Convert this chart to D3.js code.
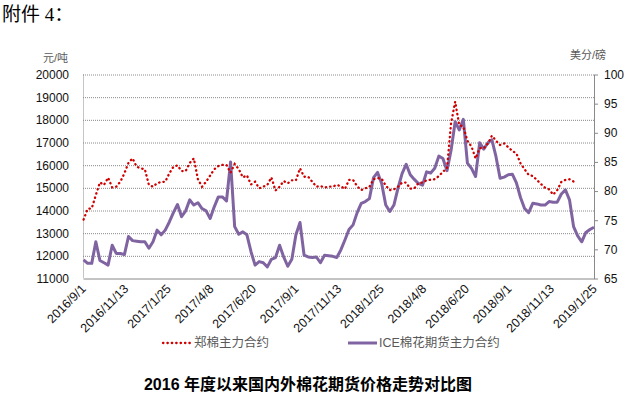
<!DOCTYPE html>
<html>
<head>
<meta charset="utf-8">
<script src="https://cdn.jsdelivr.net/npm/d3@7"></script>
<style>
	body { margin: 0; background: #fff; }
	svg { display: block; }
	text { font-family: "Liberation Sans", "Noto Sans CJK SC", sans-serif; }
</style>
</head>
<body>
<svg id="chart" width="630" height="398"></svg>
<script>
// x axis tick labels (every 73 days)
const tickLabels = ['2016/9/1', '2016/11/13', '2017/1/25', '2017/4/8', '2017/6/20', '2017/9/1',
	'2017/11/13', '2018/1/25', '2018/4/8', '2018/6/20', '2018/9/1', '2018/11/13', '2019/1/25'];

const leftTicks = [11000, 12000, 13000, 14000, 15000, 16000, 17000, 18000, 19000, 20000];
const rightTicks = [65, 70, 75, 80, 85, 90, 95, 100];

// weekly readings, first week ends 2016/9/2
const firstWeek = '2016/9/2';

// 郑棉主力合约 (元/吨)
const zceValues = [
	13600, 14070, 14100, 14680, 15240, 15130, 15450, 15020, 15050, 15270,
	15640, 16110, 16300, 15930, 15860, 15820, 15130, 15050, 15200, 15260,
	15270, 15640, 15930, 15990, 15740, 15740, 16100, 16300, 15380, 15050,
	15270, 15540, 15820,
	15960, 16010, 16010, 15670, 16050, 15830, 15460, 15550, 15150, 15270,
	14980, 15050, 15130, 15460, 14880, 15050, 15300, 15200, 15330, 15330,
	15860, 15490, 15490, 15270, 15050, 15080, 15010, 15050, 15050, 15130,
	15070, 14950,
	15350, 15350, 15070, 14900, 14980, 15040, 15380, 15430, 15400, 15100,
	14900, 14930, 15050, 15230, 15230, 14960, 14980, 15200, 15240, 15330,
	15360, 15380, 15520, 15710, 15860, 17850, 18800, 17770, 17700, 17080,
	16820, 16300, 16750, 16740, 16950, 17300, 17080, 16890, 16960, 16790,
	16630, 16520, 16080, 15820, 15570, 15520, 15350, 15170, 15010, 14930,
	14700, 14900, 15260, 15350, 15380, 15280
];

// ICE棉花期货主力合约 (美分/磅)
const iceValues = [
	68.2, 67.6, 67.6, 71.3, 68.1, 67.7, 67.3, 70.7, 69.3, 69.3,
	69.1, 72.2, 71.5, 71.4, 71.3, 71.3, 70.2, 71.3, 73.3, 72.5,
	73.3, 74.7, 76.3, 77.7, 75.6, 76.6, 78.5, 77.6, 78.0, 77.0,
	76.6, 75.3, 77.3,
	79.0, 79.0, 78.3, 85.0, 73.9, 72.6, 73.0, 72.5, 69.6, 67.3,
	67.9, 67.7, 67.0, 68.3, 68.6, 70.7, 68.7, 67.1, 68.3, 72.5,
	74.6, 69.0, 68.7, 68.6, 68.7, 67.7, 69.0, 68.9, 68.8, 68.6,
	69.9, 71.6,
	73.4, 74.2, 76.3, 77.9, 78.2, 78.7, 82.3, 83.2, 81.3, 77.6,
	76.5, 77.6, 80.5, 83.0, 84.6, 82.8, 82.0, 81.3, 81.0, 83.3,
	83.1, 83.9, 86.0, 85.6, 83.5, 87.0, 91.9, 90.5, 92.3, 84.8,
	83.9, 82.5, 88.3, 87.2, 88.3, 88.8, 85.9, 82.2, 82.4, 82.8,
	82.9, 81.4, 78.9, 77.0, 76.3, 77.9, 77.8, 77.6, 77.6, 78.2,
	78.1, 78.1, 79.5, 80.2, 78.5, 73.9, 72.3, 71.3, 72.9, 73.4,
	73.8
];

const parse = d3.timeParse('%Y/%m/%d');
const tickDates = tickLabels.map(parse);
const start = parse(firstWeek);
const weekOf = i => d3.timeDay.offset(start, 7 * i);

const plotLeft = 83, plotRight = 594, plotTop = 74.5, plotBottom = 278.5;

const x = d3.scaleTime()
	.domain([tickDates[0], tickDates[tickDates.length - 1]])
	.range([plotLeft, plotRight]);

const yLeft = d3.scaleLinear().domain([11000, 20000]).range([plotBottom, plotTop]);
const yRight = d3.scaleLinear().domain([65, 100]).range([plotBottom, plotTop]);

const svg = d3.select('#chart');

// header
svg.append('text')
	.attr('x', 2).attr('y', 21)
	.style('font-family', '"Liberation Serif", "Noto Sans CJK SC", serif')
	.style('font-size', '19px')
	.attr('fill', '#000')
	.text('附件 4：');

// gridlines
svg.append('g')
	.attr('transform', `translate(${plotLeft},0)`)
	.call(d3.axisLeft(yLeft).tickValues(leftTicks.slice(1)).tickSize(-(plotRight - plotLeft)).tickFormat(''))
	.call(g => g.select('.domain').remove())
	.selectAll('line')
	.attr('stroke', '#8a8a8a')
	.attr('stroke-dasharray', '1,1');

// left border (dotted)
svg.append('line')
	.attr('x1', plotLeft + 0.5).attr('x2', plotLeft + 0.5)
	.attr('y1', plotTop).attr('y2', plotBottom)
	.attr('stroke', '#8a8a8a')
	.attr('stroke-dasharray', '1,1');

// left axis labels
svg.append('g')
	.attr('transform', `translate(${plotLeft},0)`)
	.call(d3.axisLeft(yLeft).tickValues(leftTicks).tickSize(0).tickPadding(14).tickFormat(d3.format('d')))
	.call(g => g.select('.domain').remove())
	.selectAll('text')
	.style('font-size', '12px')
	.attr('fill', '#111');

// right axis
const ra = svg.append('g')
	.attr('transform', `translate(${plotRight},0)`)
	.call(d3.axisRight(yRight).tickValues(rightTicks).tickSize(4).tickSizeOuter(0).tickPadding(6));
ra.selectAll('.domain, line').attr('stroke', '#8a8a8a');
ra.selectAll('text').style('font-size', '12px').attr('fill', '#111');

// bottom axis
const xa = svg.append('g')
	.attr('transform', `translate(0,${plotBottom})`)
	.call(d3.axisBottom(x).tickValues(tickDates).tickSize(0).tickSizeOuter(0).tickFormat((d, i) => tickLabels[i]));
xa.select('.domain').attr('stroke', '#8a8a8a').attr('stroke-width', 1.2);
xa.selectAll('text')
	.style('font-size', '12.5px')
	.attr('fill', '#111')
	.attr('text-anchor', 'end')
	.attr('y', 0)
	.attr('dy', '0.35em')
	.attr('transform', 'translate(0,8) rotate(-45)');

// units
svg.append('text')
	.attr('x', 43).attr('y', 62)
	.style('font-size', '11px')
	.attr('fill', '#595959')
	.text('元/吨');

svg.append('text')
	.attr('x', 570).attr('y', 59)
	.style('font-size', '11px')
	.attr('fill', '#595959')
	.text('美分/磅');

// series
const iceLine = d3.line()
	.x((d, i) => x(weekOf(i)))
	.y(d => yRight(d));

const zceLine = d3.line()
	.x((d, i) => x(weekOf(i)))
	.y(d => yLeft(d));

svg.append('path')
	.datum(iceValues)
	.attr('d', iceLine)
	.attr('fill', 'none')
	.attr('stroke', '#8064a2')
	.attr('stroke-width', 3)
	.attr('stroke-linejoin', 'round');

svg.append('path')
	.datum(zceValues)
	.attr('d', zceLine)
	.attr('fill', 'none')
	.attr('stroke', '#d00000')
	.attr('stroke-width', 2.3)
	.attr('stroke-linecap', 'round')
	.attr('stroke-dasharray', '0.4,4');

// legend
const legendY = 343;
svg.append('line')
	.attr('x1', 163).attr('x2', 190)
	.attr('y1', legendY).attr('y2', legendY)
	.attr('stroke', '#d00000')
	.attr('stroke-width', 2.3)
	.attr('stroke-linecap', 'round')
	.attr('stroke-dasharray', '0.4,4');
svg.append('text')
	.attr('x', 194).attr('y', legendY)
	.attr('dy', '0.35em')
	.style('font-size', '12.5px')
	.attr('fill', '#595959')
	.text('郑棉主力合约');

svg.append('line')
	.attr('x1', 348).attr('x2', 377)
	.attr('y1', legendY).attr('y2', legendY)
	.attr('stroke', '#8064a2')
	.attr('stroke-width', 3);
svg.append('text')
	.attr('x', 379).attr('y', legendY)
	.attr('dy', '0.35em')
	.style('font-size', '12.5px')
	.attr('fill', '#595959')
	.text('ICE棉花期货主力合约');

// title
svg.append('text')
	.attr('x', 308).attr('y', 390)
	.attr('text-anchor', 'middle')
	.style('font-size', '16px')
	.style('font-weight', 'bold')
	.attr('fill', '#000')
	.text('2016 年度以来国内外棉花期货价格走势对比图');
</script>
</body>
</html>
